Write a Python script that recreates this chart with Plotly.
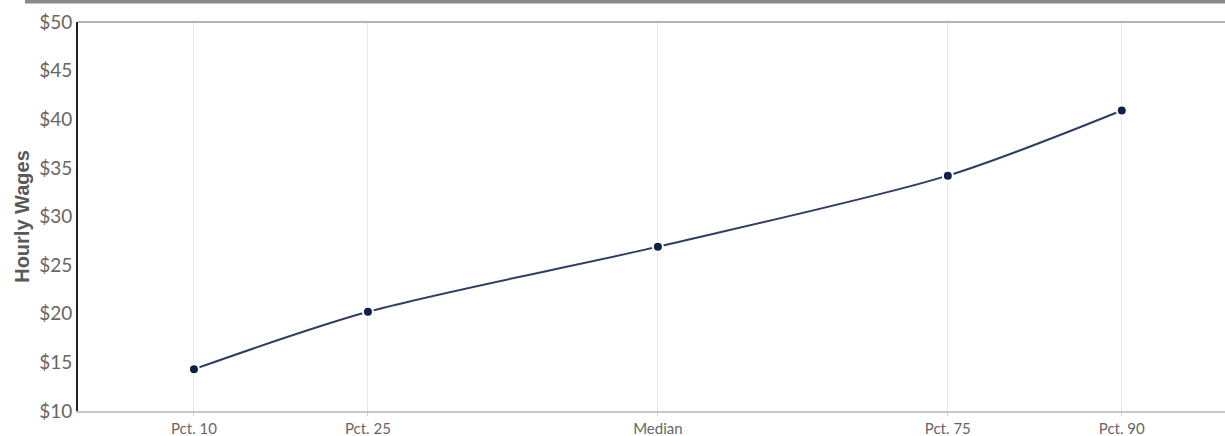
import plotly.graph_objects as go

percentiles = [10, 25, 50, 75, 90]
tick_labels = ["Pct. 10", "Pct. 25", "Median", "Pct. 75", "Pct. 90"]
wages = [14.3, 20.2, 26.9, 34.2, 40.9]
y_ticks = [10, 15, 20, 25, 30, 35, 40, 45, 50]
y_tick_labels = ["$" + str(v) for v in y_ticks]

fig = go.Figure()
fig.add_trace(go.Scatter(
    x=percentiles, y=wages, mode="lines+markers",
    line=dict(color="#2f3d66", width=2, shape="spline", smoothing=0.8),
    marker=dict(color="#0f2147", size=10, line=dict(color="white", width=2)),
    hoverinfo="skip", showlegend=False,
))

fig.update_layout(
    width=1225, height=436,
    margin=dict(l=78, r=0, t=22, b=25),
    paper_bgcolor="white", plot_bgcolor="white",
    font=dict(family="Lato", color="#666666"),
    xaxis=dict(
        range=[0, 98.9], tickvals=percentiles, ticktext=tick_labels,
        showgrid=True, gridcolor="#e6e6e6", gridwidth=1,
        showline=True, linecolor="#c8c8c8", linewidth=2,
        ticks="outside", ticklen=3, tickcolor="#d0d0d0",
        tickfont=dict(family="Lato", size=15, color="#666666"),
        zeroline=False, mirror=False,
    ),
    yaxis=dict(
        range=[10, 50], tickvals=y_ticks, ticktext=y_tick_labels,
        showgrid=False,
        showline=True, linecolor="#222222", linewidth=2,
        ticks="", tickfont=dict(family="Lato", size=19, color="#666666"),
        zeroline=False,
        title=dict(text="<b>Hourly Wages</b>", font=dict(family="Liberation Sans", size=20, color="#595959"), standoff=4),
    ),
    shapes=[
        dict(type="line", xref="paper", yref="paper", x0=0, x1=1, y0=1, y1=1,
             line=dict(color="#b4b4b4", width=2)),
        dict(type="rect", xref="paper", yref="paper", x0=-0.0462, x1=1.0, y0=1.0476, y1=1.0575,
             fillcolor="#888888", line=dict(width=0)),
    ],
)

fig.write_html(
    "out.html",
    config={"displayModeBar": False},
    post_script="document.body.style.margin='0';document.body.style.overflow='hidden';",
)
